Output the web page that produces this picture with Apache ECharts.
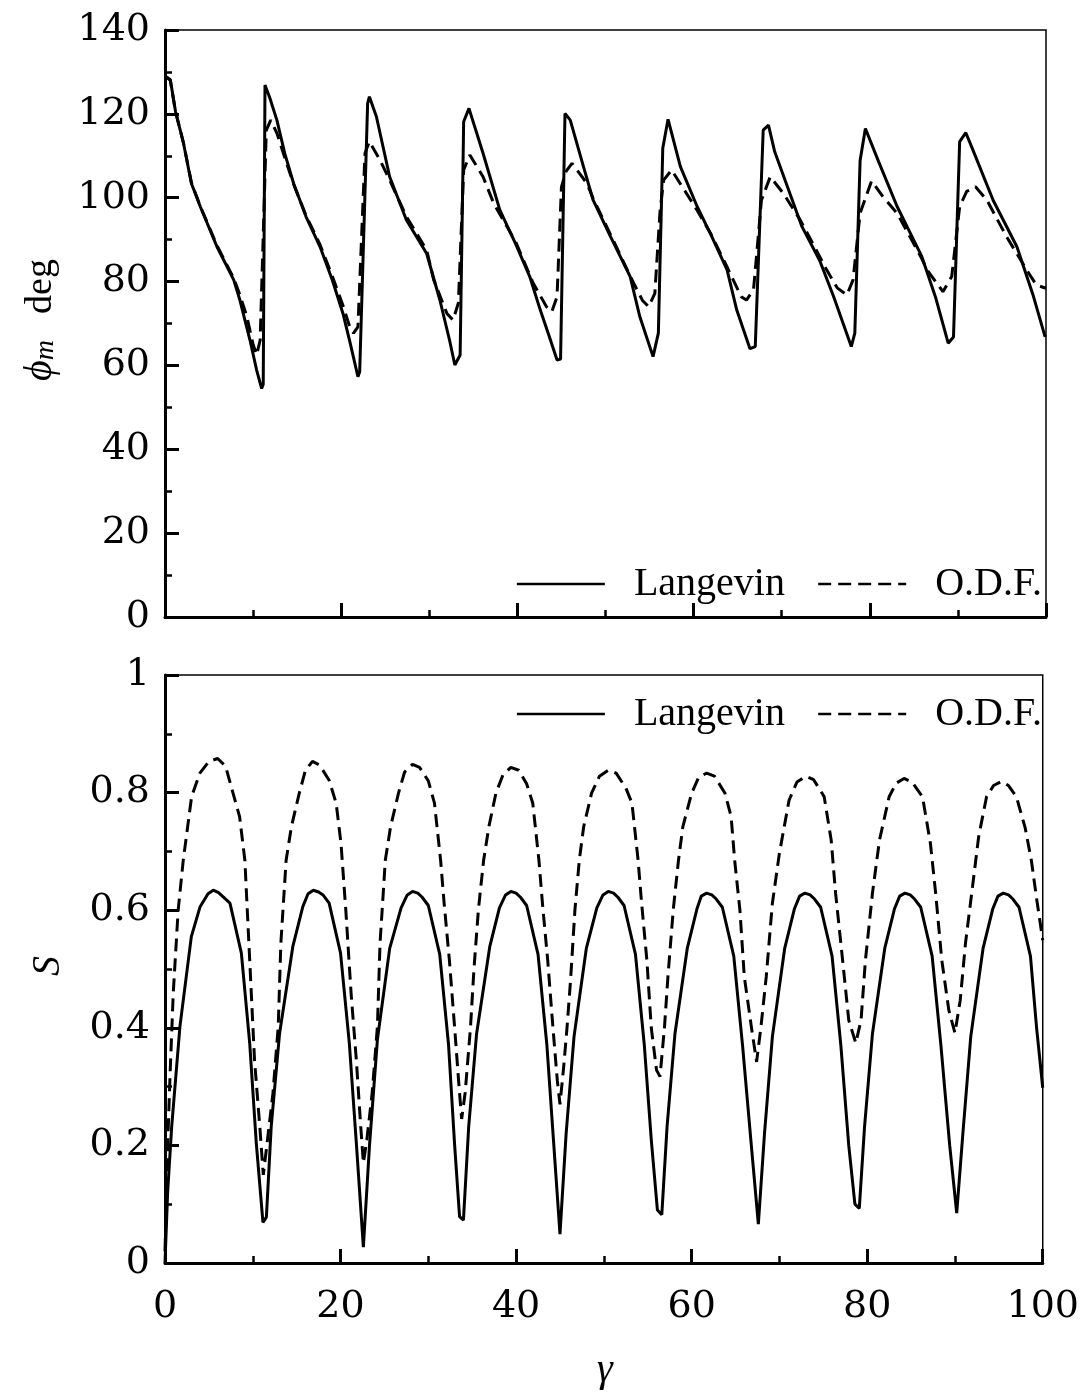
<!DOCTYPE html>
<html>
<head>
<meta charset="utf-8">
<script src="https://cdn.jsdelivr.net/npm/echarts@6/dist/echarts.min.js"></script>
<style>
  html, body { margin: 0; padding: 0; background: #fff; }
  #chart { width: 1082px; height: 1397px; }
</style>
</head>
<body>
<div id="chart"></div>
<script>
// Mean orientation angle phi_m (deg) against strain gamma
const phiLangevin = [
  [0,129],[0.6,128.2],[1.2,120.5],[2.1,113],[3.0,103.4],[4.0,97.9],[5.9,88.3],[7.8,80.4],[8.5,75.6],[9.65,66],[10.4,58.9],[10.97,54.5],[11.15,55.5],
  [11.35,126.9],[11.9,123.8],[12.7,118.5],[13.6,110.5],[14.6,103.4],[16.0,95.5],[17.6,88.3],[19.0,80.3],[20.2,72.4],[21.0,65.5],[21.9,57.3],[22.1,58.5],
  [23.0,122.5],[23.2,124.1],[24.0,119.3],[25.5,105],[27.4,94.7],[29.7,86.7],[31.2,75.6],[32.3,66],[32.9,60.1],[33.5,62.5],
  [33.9,118.1],[34.5,121.3],[36.1,110.6],[38.0,97.1],[39.8,89],[41.4,81.2],[42.6,73.2],[43.6,67],[44.5,61.3],[44.9,61.5],
  [45.4,120.1],[46.0,118.5],[47.5,107.4],[48.6,99.4],[50.5,91],[52.8,81.2],[53.9,71.6],[55.4,62.1],[56.0,67.7],
  [56.5,111.8],[57.1,118.7],[58.5,107.4],[60.4,97.9],[62.0,91],[63.8,82.8],[64.9,73.2],[66.4,64.0],[67.0,64.5],
  [67.9,116.1],[68.5,117.3],[69.2,111],[72.3,93.1],[74.3,85.1],[75.9,76.4],[77.9,64.5],[78.3,67.7],
  [78.9,108.9],[79.5,116.5],[81.0,108.6],[83.1,97.9],[85.9,86],[87.5,76],[88.9,65.3],[89.5,66.8],
  [90.2,113.4],[90.9,115.5],[91.7,111.4],[94.0,99.4],[96.7,88.3],[98.5,77],[99.9,66.8]
];
const phiODF = [
  [0,129],[0.6,128],[1.2,120.5],[2.1,113],[3.0,103.6],[4.0,98],[5.9,88.6],[7.8,80.8],[8.5,76.8],[9.3,71.6],[10.0,65],[10.4,62.5],[10.8,66],
  [11.5,116.1],[12.0,118.5],[12.7,115.4],[13.6,109.5],[14.6,103.2],[16.0,95.8],[17.6,88.8],[19.0,81.2],[20.2,74.3],[21.0,69],[21.4,67.7],[21.9,69.2],
  [22.7,110.6],[23.2,113.4],[24.4,109],[25.5,104.2],[27.4,95.5],[29.7,87.5],[30.5,80.4],[32.0,72.4],[32.7,70.8],[33.3,74.9],
  [33.9,106.6],[34.6,110.2],[36.1,105],[37.3,98.7],[39.8,89.5],[41.8,79.6],[43.3,74],[43.9,72.8],[44.5,76.4],
  [45.0,102.6],[45.5,106.2],[46.2,108.2],[47.9,103.4],[48.6,99.8],[50.5,91.5],[53.2,79.6],[54.2,75.5],[54.9,74],[55.6,77.2],
  [56.2,97.1],[56.6,104.2],[57.5,106.6],[59.2,101],[60.4,97],[62.0,91.2],[63.8,83.5],[65.4,76.4],[66.0,75.6],[66.8,78],
  [67.7,99.4],[68.7,105],[70.2,101],[72.1,94.7],[74.3,86],[75.1,82.8],[76.3,78.5],[77.4,76.8],[78.1,80.4],
  [78.9,96.3],[80.2,104],[81.5,100.2],[83.1,96.3],[85.9,85.5],[86.5,82.8],[88.3,77.6],[89.3,81.2],
  [90.2,97.9],[91.0,101.5],[92.0,102.6],[93.3,99.4],[95.5,90.8],[97.8,82.8],[98.9,79.2],[100,78.4]
];

// Order parameter S against strain gamma
const sLangevin = [
  [0,0.0],[0.3,0.12],[0.76,0.232],[1.7,0.402],[3.0,0.555],[4.0,0.606],[4.9,0.628],[5.5,0.634],[6.1,0.630],[6.6,0.623],[7.4,0.612],[8.7,0.527],[9.65,0.374],[10.4,0.204],[11.16,0.069],[11.55,0.078],
  [12.1,0.232],[13.05,0.39],[14.56,0.538],[15.7,0.606],[16.3,0.628],[16.9,0.634],[17.5,0.631],[18.0,0.626],[18.7,0.612],[20.0,0.527],[21.0,0.374],[21.8,0.204],[22.6,0.027],
  [23.3,0.2],[24.2,0.38],[25.6,0.535],[26.9,0.604],[27.6,0.626],[28.2,0.632],[28.8,0.629],[29.3,0.622],[30.0,0.608],[31.3,0.525],[32.3,0.372],[33.0,0.2],[33.56,0.079],[34.0,0.073],
  [34.6,0.232],[35.5,0.39],[37.0,0.538],[38.1,0.604],[38.8,0.626],[39.4,0.632],[40.0,0.629],[40.5,0.622],[41.2,0.608],[42.5,0.525],[43.5,0.372],[44.3,0.2],[45.0,0.049],
  [45.7,0.22],[46.6,0.385],[48.0,0.535],[49.2,0.604],[49.9,0.626],[50.5,0.632],[51.1,0.629],[51.6,0.622],[52.3,0.608],[53.6,0.525],[54.6,0.372],[55.4,0.21],[56.1,0.09],[56.6,0.082],
  [57.2,0.232],[58.1,0.39],[59.5,0.535],[60.6,0.602],[61.1,0.624],[61.7,0.629],[62.3,0.626],[62.8,0.619],[63.5,0.605],[64.8,0.522],[65.8,0.37],[66.8,0.2],[67.6,0.066],
  [68.3,0.22],[69.2,0.385],[70.6,0.535],[71.7,0.602],[72.3,0.624],[72.9,0.629],[73.5,0.626],[74.0,0.619],[74.7,0.605],[76.0,0.522],[77.0,0.37],[77.9,0.2],[78.6,0.1],[79.1,0.093],
  [79.7,0.232],[80.6,0.39],[82.0,0.535],[83.1,0.602],[83.7,0.624],[84.3,0.629],[84.9,0.626],[85.4,0.619],[86.1,0.605],[87.4,0.522],[88.4,0.37],[89.4,0.2],[90.2,0.085],
  [90.9,0.22],[91.8,0.385],[93.2,0.535],[94.3,0.602],[94.9,0.624],[95.5,0.629],[96.1,0.626],[96.6,0.619],[97.3,0.605],[98.6,0.522],[99.3,0.40],[100,0.298]
];
const sODF = [
  [0,0.02],[0.3,0.2],[0.6,0.33],[0.94,0.459],[1.5,0.6],[2.08,0.685],[3.03,0.793],[3.97,0.833],[5.0,0.853],[6.0,0.858],[6.9,0.845],[7.75,0.799],[8.5,0.759],[9.1,0.685],[9.65,0.515],[10.2,0.345],[10.8,0.232],[11.2,0.15],
  [11.6,0.2],[12.3,0.289],[12.9,0.402],[13.2,0.544],[13.8,0.685],[14.4,0.742],[15.3,0.799],[16.0,0.838],[16.8,0.853],[17.6,0.847],[18.7,0.821],[19.5,0.782],[20.05,0.714],[20.6,0.6],[21.2,0.459],[21.8,0.345],[22.3,0.232],[22.6,0.17],
  [23.0,0.21],[23.6,0.289],[24.2,0.402],[24.5,0.544],[25.1,0.685],[25.7,0.742],[26.6,0.799],[27.3,0.835],[28.2,0.848],[29.0,0.843],[30.0,0.82],[30.7,0.782],[31.4,0.685],[31.8,0.612],[32.4,0.515],[33.0,0.40],[33.5,0.30],[33.8,0.245],
  [34.2,0.29],[34.8,0.40],[35.2,0.5],[35.7,0.6],[36.3,0.685],[36.9,0.742],[37.7,0.799],[38.5,0.83],[39.4,0.843],[40.3,0.838],[41.2,0.815],[41.9,0.782],[42.6,0.685],[43.0,0.612],[43.6,0.515],[44.2,0.40],[44.7,0.31],[45.0,0.27],
  [45.4,0.33],[45.8,0.40],[46.2,0.48],[46.7,0.6],[47.2,0.685],[47.7,0.742],[48.6,0.799],[49.5,0.828],[50.5,0.838],[51.4,0.833],[52.5,0.808],[53.2,0.782],[53.9,0.685],[54.3,0.612],[54.9,0.515],[55.4,0.40],[56.0,0.328],[56.4,0.317],
  [56.9,0.40],[57.3,0.487],[57.9,0.6],[58.5,0.685],[59.0,0.742],[60.0,0.799],[60.8,0.826],[61.7,0.833],[62.6,0.828],[63.8,0.799],[64.5,0.759],[64.9,0.685],[65.5,0.6],[66.0,0.487],[66.8,0.402],[67.4,0.342],
  [67.9,0.402],[68.5,0.487],[69.2,0.612],[70.0,0.697],[71.1,0.787],[72.0,0.818],[73.0,0.828],[73.9,0.822],[75.1,0.793],[75.9,0.719],[76.4,0.629],[77.2,0.515],[77.9,0.413],[78.7,0.374],
  [79.3,0.413],[79.8,0.515],[80.6,0.629],[81.4,0.719],[82.5,0.793],[83.3,0.816],[84.2,0.824],[85.1,0.818],[86.3,0.793],[87.2,0.714],[87.8,0.629],[88.5,0.515],[89.3,0.43],[90.0,0.391],
  [90.6,0.447],[91.2,0.544],[92.0,0.64],[92.7,0.725],[93.6,0.793],[94.4,0.812],[95.3,0.819],[96.1,0.812],[97.0,0.793],[98.0,0.74],[98.7,0.685],[99.3,0.62],[100,0.549]
];

const seriesNames = ['Langevin', 'O.D.F.'];

const chart = echarts.init(document.getElementById('chart'), null, { renderer: 'canvas' });

const tickFont = 'DejaVu Serif';
const textFont = 'Liberation Serif';

function xAxisCfg(gridIndex, showLabels) {
  return {
    type: 'value', gridIndex, min: 0, max: 100, interval: 20,
    axisLine: { show: true, onZero: false, lineStyle: { color: '#000', width: 3 } },
    axisTick: { show: true, inside: true, length: 14, lineStyle: { color: '#000', width: 3 } },
    minorTick: { show: true, splitNumber: 2, length: 7, lineStyle: { color: '#000', width: 2.5 } },
    splitLine: { show: false },
    axisLabel: { show: showLabels, color: '#000', fontFamily: tickFont, fontSize: 38, margin: 25 }
  };
}
function yAxisCfg(gridIndex, max, interval) {
  return {
    type: 'value', gridIndex, min: 0, max, interval,
    axisLine: { show: true, onZero: false, lineStyle: { color: '#000', width: 3 } },
    axisTick: { show: true, inside: true, length: 14, lineStyle: { color: '#000', width: 3 } },
    minorTick: { show: true, splitNumber: 2, length: 7, lineStyle: { color: '#000', width: 2.5 } },
    splitLine: { show: false },
    axisLabel: { color: '#000', fontFamily: tickFont, fontSize: 38, margin: 15 }
  };
}
function lineSeries(name, data, idx, dashed) {
  return {
    name, type: 'line', data, xAxisIndex: idx, yAxisIndex: idx,
    symbol: 'none', showSymbol: false, smooth: false, silent: true, animation: false,
    lineStyle: { color: '#000', width: 3, type: dashed ? [13, 7] : 'solid' },
    itemStyle: { color: '#000' }
  };
}
function legendCfg(top) {
  return {
    show: true, type: 'plain',
    data: seriesNames, right: 40, top, orient: 'horizontal', padding: 0,
    itemWidth: 88, itemHeight: 20, itemGap: 32, selectedMode: false,
    itemStyle: { color: 'transparent', borderWidth: 0, borderColor: 'transparent' },
    lineStyle: { width: 2.5 },
    textStyle: { fontFamily: textFont, fontSize: 40, color: '#000', padding: [0, 0, 0, 24] }
  };
}

chart.setOption({
  backgroundColor: '#fff',
  animation: false,
  grid: [
    { left: 165, top: 30, width: 881, height: 587, show: true, borderColor: '#000', borderWidth: 1.5, backgroundColor: 'transparent' },
    { left: 165, top: 675, width: 881, height: 588, show: true, borderColor: '#000', borderWidth: 1.5, backgroundColor: 'transparent' }
  ],
  xAxis: [xAxisCfg(0, false), xAxisCfg(1, true)],
  yAxis: [yAxisCfg(0, 140, 20), yAxisCfg(1, 1, 0.2)],
  legend: [legendCfg(564), legendCfg(694)],
  series: [
    lineSeries(seriesNames[0], phiLangevin, 0, false),
    lineSeries(seriesNames[1], phiODF, 0, true),
    lineSeries(seriesNames[0], sLangevin, 1, false),
    lineSeries(seriesNames[1], sODF, 1, true)
  ],
  graphic: [
    {
      type: 'text', x: 38, y: 320, rotation: Math.PI / 2,
      style: {
        text: '{phi|ϕ}{sub|m}{gap| }{deg|deg}',
        align: 'center', verticalAlign: 'middle',
        rich: {
          phi: { fontFamily: textFont, fontStyle: 'italic', fontSize: 40, fill: '#000', lineHeight: 44, verticalAlign: 'bottom' },
          sub: { fontFamily: textFont, fontStyle: 'italic', fontSize: 28, fill: '#000', lineHeight: 44, verticalAlign: 'bottom' },
          gap: { fontSize: 40, lineHeight: 44, width: 26 },
          deg: { fontFamily: textFont, fontSize: 38, fill: '#000', lineHeight: 44, verticalAlign: 'bottom' }
        }
      }
    },
    {
      type: 'text', x: 48, y: 966, rotation: Math.PI / 2,
      style: { text: 'S', fontFamily: textFont, fontStyle: 'italic', fontSize: 40, fill: '#000', align: 'center', verticalAlign: 'middle' }
    },
    {
      type: 'text', x: 605, y: 1370,
      style: { text: 'γ', fontFamily: textFont, fontStyle: 'italic', fontSize: 40, fill: '#000', align: 'center', verticalAlign: 'middle' }
    }
  ]
});
</script>
</body>
</html>
